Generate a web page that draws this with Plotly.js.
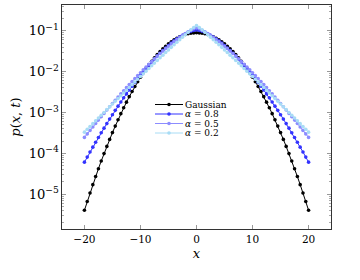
<!DOCTYPE html>
<html>
<head>
<meta charset="utf-8">
<script src="https://cdn.plot.ly/plotly-3.0.1.min.js"></script>
<style>html,body{margin:0;padding:0;background:#fff;}#chart{width:360px;height:280px;}</style>
</head>
<body>
<div id="chart"></div>
<script>
const xValues = [-20,-19.5,-19,-18.5,-18,-17.5,-17,-16.5,-16,-15.5,-15,-14.5,-14,-13.5,-13,-12.5,-12,-11.5,-11,-10.5,-10,-9.5,-9,-8.5,-8,-7.5,-7,-6.5,-6,-5.5,-5,-4.5,-4,-3.5,-3,-2.5,-2,-1.5,-1,-0.5,0,0.5,1,1.5,2,2.5,3,3.5,4,4.5,5,5.5,6,6.5,7,7.5,8,8.5,9,9.5,10,10.5,11,11.5,12,12.5,13,13.5,14,14.5,15,15.5,16,16.5,17,17.5,18,18.5,19,19.5,20];

const gaussian = [4.05e-6,6.64e-6,1.07e-5,1.72e-5,2.71e-5,4.22e-5,6.50e-5,9.87e-5,1.48e-4,2.20e-4,3.22e-4,4.65e-4,6.65e-4,9.37e-4,1.305e-3,1.79e-3,2.44e-3,3.27e-3,4.33e-3,5.67e-3,7.32e-3,9.35e-3,0.01178,0.01466,0.0180,0.0219,0.0262,0.0310,0.0363,0.0419,0.0478,0.0538,0.0598,0.0657,0.0712,0.0763,0.0807,0.0843,0.0870,0.0887,0.0892,0.0887,0.0870,0.0843,0.0807,0.0763,0.0712,0.0657,0.0598,0.0538,0.0478,0.0419,0.0363,0.0310,0.0262,0.0219,0.0180,0.01466,0.01178,9.35e-3,7.32e-3,5.67e-3,4.33e-3,3.27e-3,2.44e-3,1.79e-3,1.305e-3,9.37e-4,6.65e-4,4.65e-4,3.22e-4,2.20e-4,1.48e-4,9.87e-5,6.50e-5,4.22e-5,2.71e-5,1.72e-5,1.07e-5,6.64e-6,4.05e-6];

const alpha08 = [6.10e-5,8.12e-5,1.08e-4,1.42e-4,1.87e-4,2.45e-4,3.19e-4,4.14e-4,5.35e-4,6.90e-4,8.84e-4,1.13e-3,1.43e-3,1.81e-3,2.28e-3,2.85e-3,3.56e-3,4.41e-3,5.44e-3,6.68e-3,8.15e-3,9.91e-3,0.01197,0.01438,0.01717,0.0204,0.0241,0.0282,0.0329,0.0380,0.0437,0.0498,0.0564,0.0633,0.0704,0.0776,0.0847,0.0914,0.0974,0.1021,0.1047,0.1021,0.0974,0.0914,0.0847,0.0776,0.0704,0.0633,0.0564,0.0498,0.0437,0.0380,0.0329,0.0282,0.0241,0.0204,0.01717,0.01438,0.01197,9.91e-3,8.15e-3,6.68e-3,5.44e-3,4.41e-3,3.56e-3,2.85e-3,2.28e-3,1.81e-3,1.43e-3,1.13e-3,8.84e-4,6.90e-4,5.35e-4,4.14e-4,3.19e-4,2.45e-4,1.87e-4,1.42e-4,1.08e-4,8.12e-5,6.10e-5];

const alpha05 = [2.46e-4,3.00e-4,3.65e-4,4.43e-4,5.38e-4,6.52e-4,7.89e-4,9.52e-4,1.15e-3,1.38e-3,1.66e-3,2.00e-3,2.39e-3,2.86e-3,3.41e-3,4.06e-3,4.83e-3,5.72e-3,6.77e-3,7.99e-3,9.42e-3,0.01107,0.01299,0.01519,0.01772,0.0206,0.0239,0.0276,0.0318,0.0366,0.0419,0.0477,0.0542,0.0612,0.0689,0.0770,0.0856,0.0945,0.1032,0.1114,0.1175,0.1114,0.1032,0.0945,0.0856,0.0770,0.0689,0.0612,0.0542,0.0477,0.0419,0.0366,0.0318,0.0276,0.0239,0.0206,0.01772,0.01519,0.01299,0.01107,9.42e-3,7.99e-3,6.77e-3,5.72e-3,4.83e-3,4.06e-3,3.41e-3,2.86e-3,2.39e-3,2.00e-3,1.66e-3,1.38e-3,1.15e-3,9.52e-4,7.89e-4,6.52e-4,5.38e-4,4.43e-4,3.65e-4,3.00e-4,2.46e-4];

const alpha02 = [3.31e-4,3.88e-4,4.55e-4,5.33e-4,6.25e-4,7.32e-4,8.57e-4,1.00e-3,1.18e-3,1.38e-3,1.61e-3,1.88e-3,2.20e-3,2.57e-3,3.00e-3,3.51e-3,4.10e-3,4.78e-3,5.58e-3,6.50e-3,7.58e-3,8.83e-3,0.01028,0.01197,0.01392,0.01618,0.0188,0.0218,0.0253,0.0293,0.0340,0.0393,0.0455,0.0525,0.0605,0.0697,0.0801,0.0919,0.1051,0.1197,0.1349,0.1197,0.1051,0.0919,0.0801,0.0697,0.0605,0.0525,0.0455,0.0393,0.0340,0.0293,0.0253,0.0218,0.0188,0.01618,0.01392,0.01197,0.01028,8.83e-3,7.58e-3,6.50e-3,5.58e-3,4.78e-3,4.10e-3,3.51e-3,3.00e-3,2.57e-3,2.20e-3,1.88e-3,1.61e-3,1.38e-3,1.18e-3,1.00e-3,8.57e-4,7.32e-4,6.25e-4,5.33e-4,4.55e-4,3.88e-4,3.31e-4];

const seriesNames = ['Gaussian', '<i>α</i> = 0.8', '<i>α</i> = 0.5', '<i>α</i> = 0.2'];
const seriesData = [gaussian, alpha08, alpha05, alpha02];
const seriesColors = ['#000000', '#3333ff', '#8c8cff', '#a8dcf5'];
const xTicks = [-20, -10, 0, 10, 20];

const FONT = 'DejaVu Serif, Liberation Serif, serif';

const traces = seriesData.map((ys, i) => ({
  type: 'scatter',
  mode: 'lines+markers',
  x: xValues,
  y: ys,
  name: seriesNames[i],
  showlegend: false,
  line: {color: seriesColors[i], width: 1},
  marker: {color: seriesColors[i], size: 3.6, symbol: 'circle'}
}));

// plot area in pixels (for the hand-built legend)
const M = {l: 62, r: 29, t: 5, b: 51};
const W = 360, H = 280;
const pw = W - M.l - M.r, ph = H - M.t - M.b;
const px2x = p => (p - M.l) / pw;
const py2y = p => (H - M.b - p) / ph;

const legendRows = [104.5, 114, 123.5, 133];
const shapes = [], annotations = [];
legendRows.forEach((py, i) => {
  shapes.push({type: 'line', xref: 'paper', yref: 'paper',
    x0: px2x(155), x1: px2x(183), y0: py2y(py), y1: py2y(py),
    line: {color: seriesColors[i], width: 1}});
  shapes.push({type: 'circle', xref: 'paper', yref: 'paper',
    xsizemode: 'pixel', ysizemode: 'pixel',
    xanchor: px2x(169), yanchor: py2y(py),
    x0: -1.8, x1: 1.8, y0: -1.8, y1: 1.8,
    fillcolor: seriesColors[i], line: {color: seriesColors[i], width: 0}});
  annotations.push({xref: 'paper', yref: 'paper', x: px2x(184), y: py2y(py),
    xanchor: 'left', yanchor: 'middle', showarrow: false, borderpad: 0,
    text: seriesNames[i], font: {family: FONT, size: 9, color: '#000'}});
});

const layout = {
  width: W, height: H,
  margin: M,
  paper_bgcolor: '#fff', plot_bgcolor: '#fff',
  showlegend: false,
  font: {family: FONT, color: '#000'},
  xaxis: {
    range: [-24, 24],
    tickvals: xTicks,
    ticks: 'inside', ticklen: 4, tickcolor: '#999', tickwidth: 1,
    showline: true, linecolor: '#333', linewidth: 1, mirror: 'allticks',
    showgrid: false, zeroline: false,
    tickfont: {family: FONT, size: 10.5, color: '#000'},
    title: {text: '<i>x</i>', font: {family: FONT, size: 13, color: '#000'}, standoff: 5}
  },
  yaxis: {
    type: 'log',
    range: [-5.85, -0.37],
    dtick: 1,
    exponentformat: 'power',
    ticks: 'inside', ticklen: 4, tickcolor: '#999', tickwidth: 1,
    minor: {ticks: 'inside', ticklen: 2, tickcolor: '#aaa', dtick: 'D1'},
    showline: true, linecolor: '#333', linewidth: 1, mirror: 'allticks',
    showgrid: false, zeroline: false,
    tickfont: {family: FONT, size: 10.5, color: '#000'},
    title: {text: '<i>p</i>(<i>x</i>, <i>t</i>)', font: {family: FONT, size: 13, color: '#000'}, standoff: 5}
  },
  shapes: shapes,
  annotations: annotations
};

Plotly.newPlot('chart', traces, layout, {staticPlot: true, displayModeBar: false});
</script>
</body>
</html>
